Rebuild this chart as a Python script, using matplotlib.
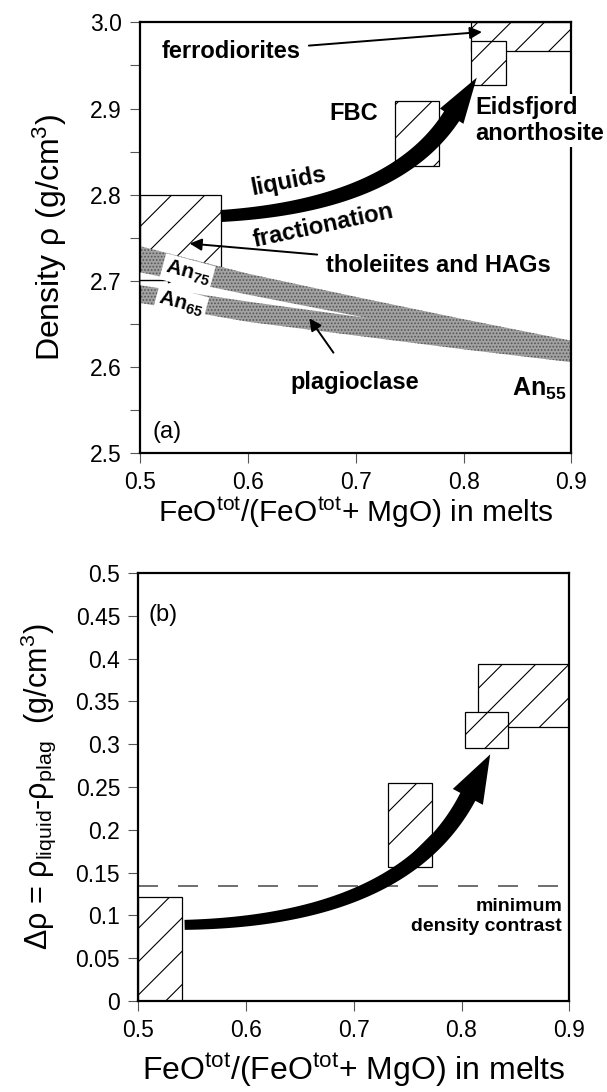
import numpy as np
import matplotlib
matplotlib.use('Agg')
import matplotlib.pyplot as plt
from matplotlib.patches import Rectangle, Polygon

plt.rcParams['font.family'] = ['Liberation Sans', 'DejaVu Sans']
plt.rcParams['mathtext.fontset'] = 'custom'
plt.rcParams['mathtext.rm'] = 'Liberation Sans'
plt.rcParams['mathtext.it'] = 'Liberation Sans:italic'
plt.rcParams['mathtext.bf'] = 'Liberation Sans:bold'
plt.rcParams['hatch.linewidth'] = 0.8

# ---- data, panel (a): density of liquids and plagioclase ----
# boxes: (x0, x1, y0, y1)
box_thol_a = (0.5, 0.575, 2.71, 2.80)
box_fbc_a = (0.736, 0.777, 2.833, 2.909)
box_ferro_a = (0.807, 0.9, 2.967, 3.0)
box_eids_a = (0.807, 0.839, 2.927, 2.979)

# plagioclase band (stippled)
plag_x = [0.5, 0.6, 0.7, 0.8, 0.9]
plag_top = [2.740, 2.708, 2.681, 2.655, 2.630]
plag_bot = [2.674, 2.652, 2.636, 2.620, 2.605]
gap_x = [0.5, 0.6, 0.71]
gap_top = [2.710, 2.684, 2.657]
gap_bot = [2.695, 2.676, 2.657]

# fractionation trend: start, bezier control, tip
trend_a = [(0.575, 2.775), (0.77, 2.79), (0.807, 2.94)]

# ---- data, panel (b): density contrast ----
box_thol_b = (0.5, 0.541, 0.0, 0.122)
box_fbc_b = (0.732, 0.773, 0.157, 0.255)
box_ferro_b = (0.815, 0.9, 0.320, 0.394)
box_eids_b = (0.803, 0.843, 0.296, 0.338)
min_contrast = 0.134
trend_b = [(0.543, 0.089), (0.78, 0.095), (0.822, 0.291)]

xticks = [0.5, 0.6, 0.7, 0.8, 0.9]
xticklabels = ['0.5', '0.6', '0.7', '0.8', '0.9']
yticks_a = [2.5, 2.6, 2.7, 2.8, 2.9, 3.0]
yticklabels_a = ['2.5', '2.6', '2.7', '2.8', '2.9', '3.0']
yminor_a = [2.55, 2.65, 2.75, 2.85, 2.95]
yticks_b = [0, 0.05, 0.1, 0.15, 0.2, 0.25, 0.3, 0.35, 0.4, 0.45, 0.5]
yticklabels_b = ['0', '0.05', '0.1', '0.15', '0.2', '0.25', '0.3', '0.35', '0.4', '0.45', '0.5']

xlabel = 'FeO$^{\\rm tot}$/(FeO$^{\\rm tot}$+ MgO) in melts'


def hatch_box(ax, b, z=2, fc='white'):
    x0, x1, y0, y1 = b
    ax.add_patch(Rectangle((x0, y0), x1 - x0, y1 - y0, facecolor=fc,
                           edgecolor='black', hatch='/', linewidth=0.9, zorder=z))


def fat_arrow(ax, pts, w0, w1, head_w, head_len):
    # thick curved arrow, widths in pixels
    P = ax.transData.transform(np.array(pts))
    t = np.linspace(0, 1, 300)[:, None]
    curve = (1 - t) ** 2 * P[0] + 2 * t * (1 - t) * P[1] + t ** 2 * P[2]
    s = np.concatenate([[0], np.cumsum(np.hypot(*np.diff(curve, axis=0).T))])
    body = curve[s <= s[-1] - head_len]
    d = np.gradient(body, axis=0)
    d /= np.hypot(d[:, 0], d[:, 1])[:, None]
    n = np.column_stack([-d[:, 1], d[:, 0]])
    w = np.linspace(w0, w1, len(body))[:, None] / 2
    left = body + n * w
    right = body - n * w
    base = body[-1]
    tip = base + d[-1] * head_len
    poly = np.vstack([left, base + n[-1] * head_w / 2, tip,
                      base - n[-1] * head_w / 2, right[::-1]])
    poly = ax.transData.inverted().transform(poly)
    ax.add_patch(Polygon(poly, closed=True, facecolor='black', edgecolor='none', zorder=5))


def style_axes(ax):
    for sp in ax.spines.values():
        sp.set_linewidth(1.6)
    ax.tick_params(which='both', direction='out', length=7, width=0.8,
                   color='#555555', labelsize=16.5, top=False, right=False, pad=6)
    ax.set_xticks(xticks)
    ax.set_xticklabels(xticklabels)


fig = plt.figure(figsize=(6.07, 10.92), dpi=100)

# ================= panel (a) =================
ax1 = fig.add_axes([0.2306, 0.5856, 0.7109, 0.3938])
ax1.set_xlim(0.5, 0.9)
ax1.set_ylim(2.5, 3.0)
style_axes(ax1)
ax1.set_yticks(yticks_a)
ax1.set_yticklabels(yticklabels_a)
ax1.set_yticks(yminor_a, minor=True)

hatch_box(ax1, box_thol_a, fc='none')
ax1.fill_between(plag_x, plag_bot, plag_top, facecolor='#a2a2a2', edgecolor='#555555',
                 hatch='.....', linewidth=0, zorder=2.5)
ax1.fill_between(gap_x, gap_bot, gap_top, color='white', linewidth=0, zorder=2.6)

hatch_box(ax1, box_fbc_a)
hatch_box(ax1, box_ferro_a)
hatch_box(ax1, box_eids_a, z=3)
fat_arrow(ax1, trend_a, 12, 18, 28, 46)

bold = dict(fontsize=17, fontweight='bold', zorder=6)
arw = dict(arrowstyle='-|>', color='black', lw=1.4, mutation_scale=18, shrinkA=4, shrinkB=0)
ax1.annotate('ferrodiorites', xy=(0.817, 2.989), xytext=(0.52, 2.966),
             va='center', ha='left', arrowprops=arw, **bold)
ax1.text(0.698, 2.894, 'FBC', ha='center', va='center', **bold)
ax1.text(0.811, 2.886, 'Eidsfjord\nanorthosite', ha='left', va='center', linespacing=1.2,
         clip_on=False, bbox=dict(facecolor='white', edgecolor='none', pad=1), **bold)
ax1.text(0.638, 2.815, 'liquids', ha='center', va='center', rotation=11, **bold)
ax1.text(0.670, 2.764, 'fractionation', ha='center', va='center', rotation=12, **bold)
ax1.annotate('tholeiites and HAGs', xy=(0.546, 2.743), xytext=(0.672, 2.718),
             va='center', ha='left', arrowprops=arw, **bold)
ax1.annotate('', xy=(0.532, 2.70), xytext=(0.5, 2.70),
             arrowprops=dict(arrowstyle='-|>', color='black', lw=1.0, mutation_scale=8,
                             shrinkA=0, shrinkB=0), zorder=6)
ax1.text(0.544, 2.709, r'$\mathbf{An_{75}}$', ha='center', va='center', rotation=-15,
         fontsize=15, zorder=6, bbox=dict(facecolor='white', edgecolor='none', pad=2))
ax1.text(0.538, 2.673, r'$\mathbf{An_{65}}$', ha='center', va='center', rotation=-15,
         fontsize=15, zorder=6, bbox=dict(facecolor='white', edgecolor='none', pad=2))
ax1.annotate('plagioclase', xy=(0.657, 2.656), xytext=(0.699, 2.581),
             ha='center', va='center',
             arrowprops=dict(arw, shrinkA=14), **bold)
ax1.text(0.895, 2.574, r'$\mathbf{An_{55}}$', ha='right', va='center', fontsize=18, zorder=6)
ax1.text(0.5247, 2.524, '(a)', ha='center', va='center', fontsize=17)

ax1.set_xlabel(xlabel, fontsize=21.5, va='center')
ax1.xaxis.set_label_coords(0.5, -0.14)
ax1.set_ylabel('Density ρ (g/cm$^3$)', fontsize=23, va='center')
ax1.yaxis.set_label_coords(-0.209, 0.5)

# ================= panel (b) =================
ax2 = fig.add_axes([0.2278, 0.0833, 0.7100, 0.3919])
ax2.set_xlim(0.5, 0.9)
ax2.set_ylim(0, 0.5)
style_axes(ax2)
ax2.set_yticks(yticks_b)
ax2.set_yticklabels(yticklabels_b)

ax2.axhline(min_contrast, color='#555555', lw=1.2, dashes=(12, 12), zorder=1)
hatch_box(ax2, box_thol_b)
hatch_box(ax2, box_fbc_b)
hatch_box(ax2, box_ferro_b)
hatch_box(ax2, box_eids_b, z=3)
fat_arrow(ax2, trend_b, 10, 17, 34, 48)

ax2.text(0.8935, 0.099, 'minimum\ndensity contrast', ha='right', va='center',
         fontsize=14, fontweight='bold', linespacing=1.2)
ax2.text(0.5227, 0.4507, '(b)', ha='center', va='center', fontsize=17)

ax2.set_xlabel(xlabel, fontsize=23, va='center')
ax2.xaxis.set_label_coords(0.5, -0.161)
ax2.set_ylabel('Δρ = ρ$_{\\rm liquid}$-ρ$_{\\rm plag}$  (g/cm$^3$)', fontsize=22, va='center')
ax2.yaxis.set_label_coords(-0.233, 0.5)

fig.savefig('out.png', dpi=100)
